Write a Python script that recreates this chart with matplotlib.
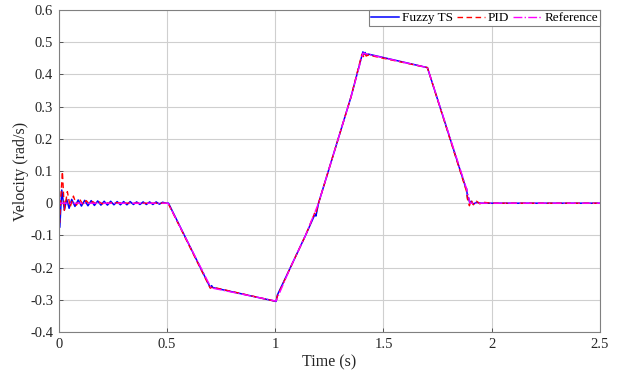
import matplotlib
matplotlib.use("Agg")
import matplotlib.pyplot as plt

plt.rcParams['font.family'] = ['Liberation Serif', 'DejaVu Serif']

# reference trajectory (rad/s)
ref_t = [0.0, 0.505, 0.704, 1.004, 1.07, 1.14, 1.20, 1.25, 1.30, 1.35, 1.405, 1.703, 1.885, 1.90, 2.5]
ref_v = [0.0, 0.0, -0.263, -0.304, -0.20, -0.10, 0.0, 0.11, 0.22, 0.33, 0.466, 0.421, 0.042, 0.0, 0.0]

# Fuzzy TS response
fuzzy_t = [0.0, 0.005, 0.014, 0.026, 0.037, 0.048, 0.060, 0.075, 0.090, 0.105, 0.120,
           0.135, 0.150, 0.165, 0.180, 0.195, 0.210, 0.225, 0.240, 0.255, 0.270,
           0.285, 0.300, 0.315, 0.330, 0.345, 0.360, 0.375, 0.390, 0.405, 0.420,
           0.435, 0.450, 0.465, 0.480, 0.495, 0.507, 0.700, 0.706, 0.712, 1.004,
           1.010, 1.07, 1.14, 1.183, 1.188, 1.20, 1.25, 1.30, 1.35, 1.405, 1.410,
           1.415, 1.420, 1.430, 1.703, 1.880, 1.884, 1.889, 1.893, 1.898, 1.905,
           1.915, 1.930, 1.950, 2.5]
fuzzy_v = [0.0, -0.075, 0.041, -0.021, 0.012, -0.016, 0.012, -0.010, 0.010, -0.009, 0.009,
           -0.008, 0.008, -0.007, 0.007, -0.006, 0.006, -0.006, 0.006, -0.005, 0.005,
           -0.005, 0.005, -0.005, 0.005, -0.004, 0.004, -0.004, 0.004, -0.004, 0.004,
           -0.004, 0.004, -0.003, 0.003, 0.0, 0.0, -0.262, -0.256, -0.262, -0.305,
           -0.285, -0.20, -0.10, -0.035, -0.040, 0.0, 0.11, 0.22, 0.33, 0.470, 0.462,
           0.468, 0.461, 0.463, 0.421, 0.048, 0.045, 0.012, 0.016, 0.002, 0.006,
           -0.003, 0.003, 0.0, 0.0]

# PID response
pid_t = [0.0, 0.004, 0.010, 0.017, 0.026, 0.040, 0.053, 0.068, 0.082, 0.097, 0.112,
         0.127, 0.142, 0.157, 0.172, 0.187, 0.202, 0.217, 0.232, 0.247, 0.280,
         0.320, 0.505, 0.700, 0.705, 0.712, 1.004, 1.010, 1.07, 1.14, 1.182,
         1.186, 1.20, 1.25, 1.30, 1.35, 1.400, 1.407, 1.413, 1.420, 1.430,
         1.703, 1.882, 1.890, 1.897, 1.905, 1.915, 1.930, 1.945, 1.960, 2.000, 2.5]
pid_v = [0.0, -0.060, 0.020, 0.098, -0.022, 0.036, -0.012, 0.022, -0.006, 0.012, -0.004,
         0.008, -0.003, 0.005, -0.002, 0.004, -0.002, 0.003, -0.001, 0.002, 0.001,
         0.0, 0.0, -0.264, -0.262, -0.261, -0.305, -0.288, -0.20, -0.10, -0.031,
         -0.036, 0.0, 0.11, 0.22, 0.33, 0.462, 0.455, 0.466, 0.457, 0.460,
         0.421, 0.040, 0.005, -0.008, 0.010, -0.005, 0.006, -0.002, 0.003, 0.0, 0.0]

fig = plt.figure(figsize=(6.22, 3.74), dpi=100)
ax = fig.add_axes([0.0944, 0.1123, 0.8702, 0.861])

ax.plot(fuzzy_t, fuzzy_v, color='#0000ff', lw=1.1, label='Fuzzy TS')
ax.plot(pid_t, pid_v, color='#ff0000', lw=1.0, ls='--', dashes=(4, 2.5), label='PID')
ax.plot(ref_t, ref_v, color='#ff00ff', lw=1.0, ls='-.', label='Reference')

ax.set_xlim(0, 2.5)
ax.set_ylim(-0.4, 0.6)
ax.set_xticks([0, 0.5, 1, 1.5, 2, 2.5])
ax.set_xticklabels(['0', '0.5', '1', '1.5', '2', '2.5'])
ax.set_yticks([-0.4, -0.3, -0.2, -0.1, 0, 0.1, 0.2, 0.3, 0.4, 0.5, 0.6])
ax.set_yticklabels(['-0.4', '-0.3', '-0.2', '-0.1', '0', '0.1', '0.2', '0.3', '0.4', '0.5', '0.6'])
ax.grid(True, color='#cfcfcf', lw=0.8)
ax.set_axisbelow(True)
for s in ax.spines.values():
    s.set_color('#808080')
    s.set_linewidth(0.8)
ax.tick_params(direction='in', length=3, colors='#404040', labelsize=10.5, width=0.6, pad=4)
for lab in ax.get_xticklabels() + ax.get_yticklabels():
    lab.set_color('#262626')

ax.set_xlabel('Time (s)', fontsize=11.5, color='#262626', labelpad=3)
ax.set_ylabel('Velocity (rad/s)', fontsize=11.5, color='#262626', labelpad=1)

leg = ax.legend(loc='upper right', ncol=3, fontsize=9.5, frameon=True, fancybox=False,
                borderaxespad=0.0, borderpad=0.15, handlelength=2.1, handletextpad=0.25,
                columnspacing=0.3, framealpha=1.0)
leg.get_frame().set_edgecolor('#808080')
leg.get_frame().set_linewidth(0.8)

fig.savefig('out.png', dpi=100)
